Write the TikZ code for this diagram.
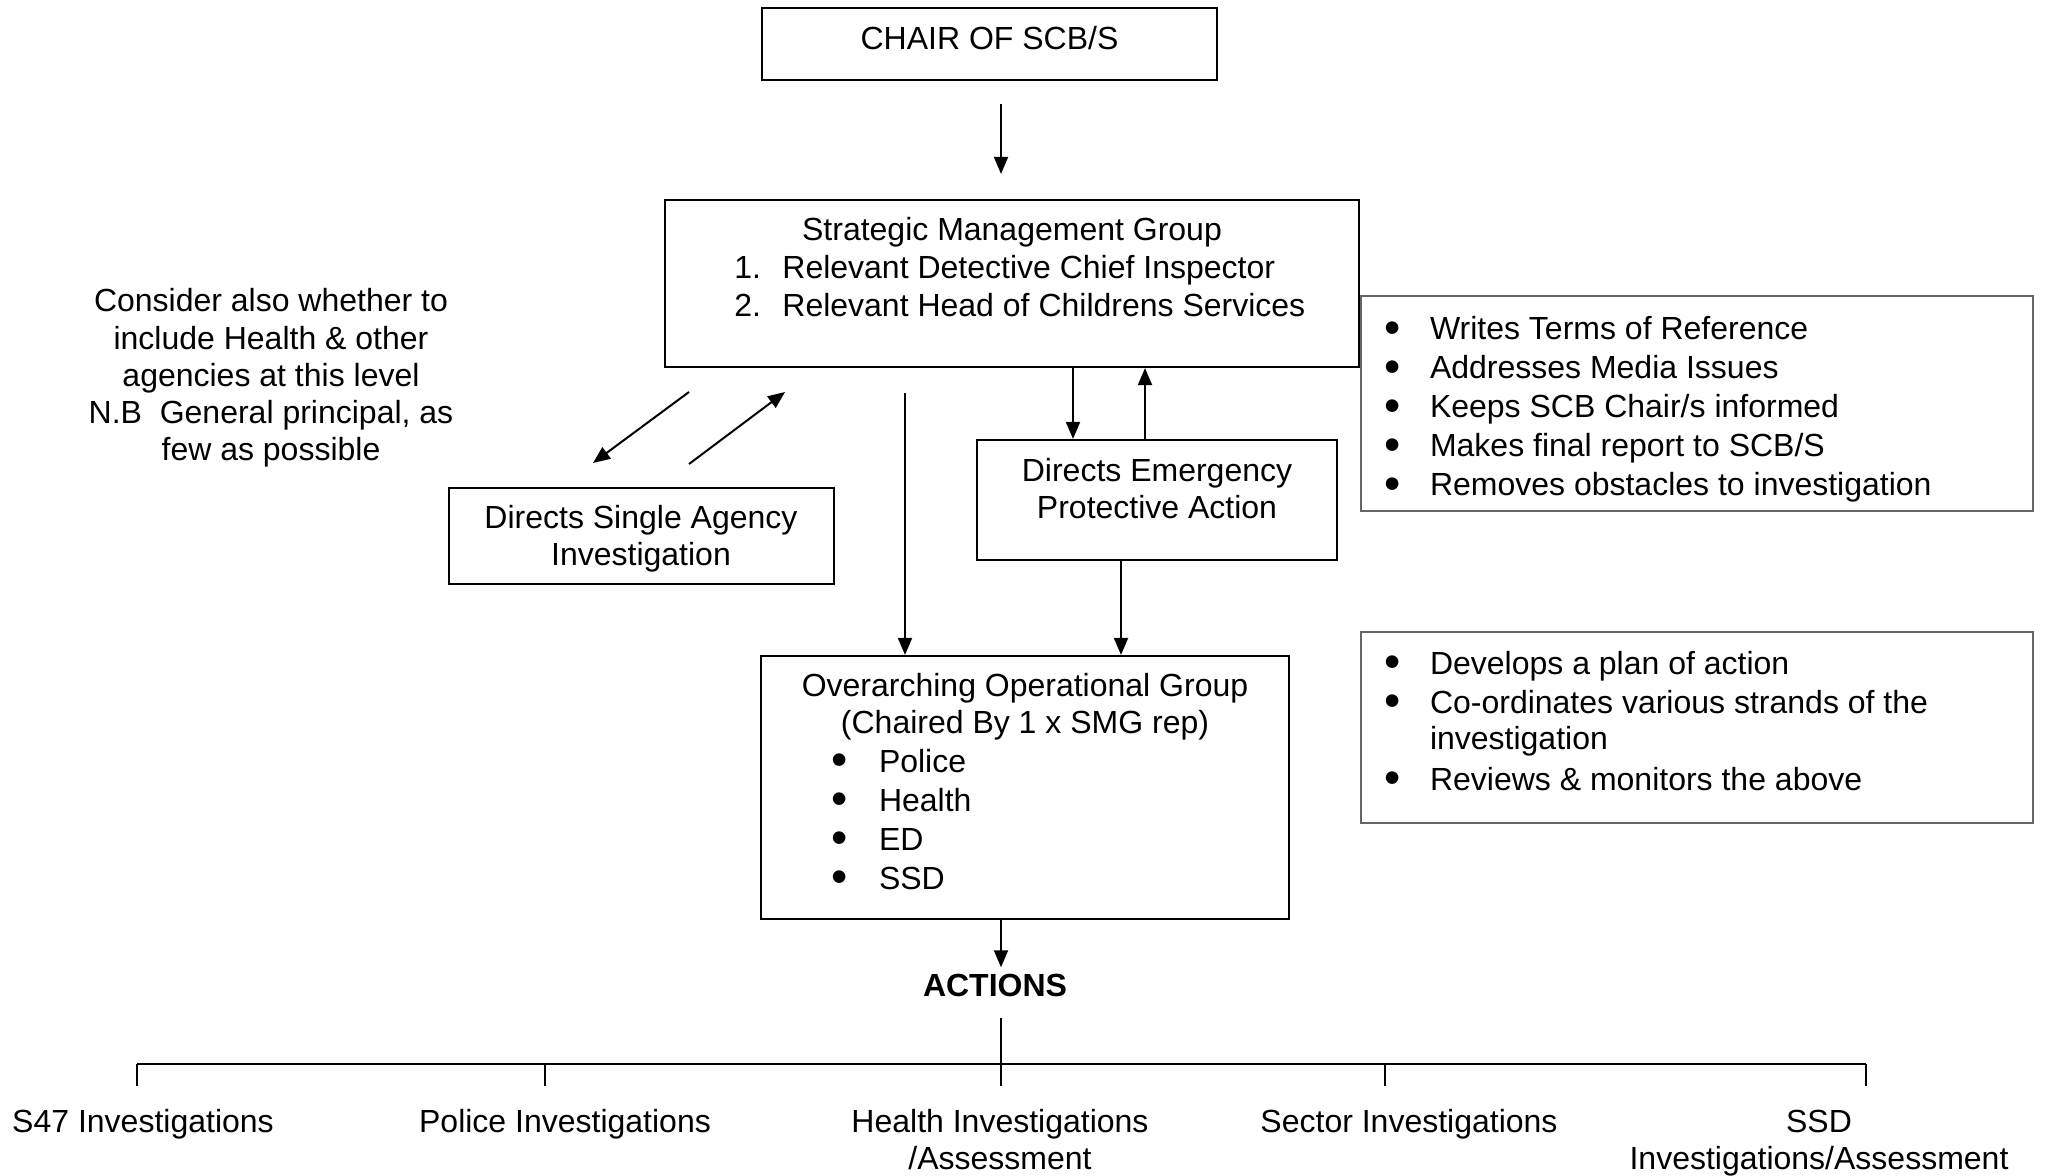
\documentclass[tikz,border=0pt]{standalone}
\usepackage{fontspec}
\setmainfont{Liberation Sans}
\usetikzlibrary{arrows.meta}
\newcommand\bitem[1]{\makebox[#1][l]{\smash{\raisebox{-0.12em}{\scalebox{1.45}{\textbullet}}}}}
\begin{document}
\begin{tikzpicture}[x=0.5pt,y=-0.5pt,
  box/.style={draw, line width=1.1pt, inner sep=0pt},
  notebox/.style={draw=black!60, line width=0.8pt, inner sep=0pt},
  txt/.style={inner sep=0pt, anchor=base, font=\fontsize{16}{18.6}\selectfont},
  arr/.style={line width=1pt, -{Triangle[length=8.5pt,width=7pt]}},
  thinline/.style={line width=0.6pt},
  bus/.style={line width=1.3pt}]
\useasboundingbox (0,0) rectangle (2045,1176);

% boxes
\node[box, minimum width=227.5pt, minimum height=36pt] (chair) at (989.5,44) {};
\node[box, minimum width=347pt, minimum height=83.5pt] (smg) at (1012,283.5) {};
\node[box, minimum width=192.5pt, minimum height=48pt] (dsai) at (641.5,536) {};
\node[box, minimum width=180pt, minimum height=60pt] (depa) at (1157,500) {};
\node[box, minimum width=264pt, minimum height=131.5pt] (oog) at (1025,787.5) {};
\node[notebox, minimum width=336pt, minimum height=107.5pt] (r1) at (1697,403.5) {};
\node[notebox, minimum width=336pt, minimum height=95.5pt] (r2) at (1697,727.5) {};

% texts
\node[txt] (chairtxt) at (989.5,50) {CHAIR OF SCB/S};
\node[txt] (smgtitle) at (1012,241) {Strategic Management Group};
\node[txt, anchor=base west] (smglist) at (734,279) {\begin{tabular}[t]{@{}l@{}l@{}}
\makebox[24pt][l]{1.}&Relevant Detective Chief Inspector\\
\makebox[24pt][l]{2.}&Relevant Head of Childrens Services\end{tabular}};
\node[txt] (note) at (271,312) {\begin{tabular}[t]{@{}c@{}}
Consider also whether to\\ include Health \& other\\ agencies at this level\\
N.B\ \ General principal, as\\ few as possible\end{tabular}};
\node[txt] (dsaitxt) at (641,528) {\begin{tabular}[t]{@{}c@{}}Directs Single Agency\\ Investigation\end{tabular}};
\node[txt] (depatxt) at (1157,481) {\begin{tabular}[t]{@{}c@{}}Directs Emergency\\ Protective Action\end{tabular}};
\node[txt, font=\fontsize{16}{18.8}\selectfont] (oogtitle) at (1025,696) {\begin{tabular}[t]{@{}c@{}}Overarching Operational Group\\ (Chaired By 1 x SMG rep)\end{tabular}};
\node[txt, anchor=base west, font=\fontsize{16}{19.5}\selectfont] (ooglist) at (831,772) {\begin{tabular}[t]{@{}l@{}l@{}}
\bitem{23.8pt}&Police\\ \bitem{23.8pt}&Health\\ \bitem{23.8pt}&ED\\ \bitem{23.8pt}&SSD\end{tabular}};
\node[txt, anchor=base west, font=\fontsize{16}{19.5}\selectfont] (r1list) at (1384,340) {\begin{tabular}[t]{@{}l@{}l@{}}
\bitem{22.8pt}&Writes Terms of Reference\\
\bitem{22.8pt}&Addresses Media Issues\\
\bitem{22.8pt}&Keeps SCB Chair/s informed\\
\bitem{22.8pt}&Makes final report to SCB/S\\
\bitem{22.8pt}&Removes obstacles to investigation\end{tabular}};
\node[txt, anchor=base west, font=\fontsize{16}{19.5}\selectfont] (r2list) at (1384,674) {\begin{tabular}[t]{@{}l@{}l@{}}
\bitem{22.8pt}&Develops a plan of action\\
\bitem{22.8pt}&Co-ordinates various strands of the\\[-1.5pt]
&investigation\\[1pt]
\bitem{22.8pt}&Reviews \& monitors the above\end{tabular}};
\node[txt, font=\fontsize{16}{18}\selectfont\bfseries] (actions) at (995,996) {ACTIONS};

\node[txt, font=\fontsize{16}{18.8}\selectfont] (s47) at (143,1132) {\begin{tabular}[t]{@{}c@{}}S47 Investigations\end{tabular}};
\node[txt, font=\fontsize{16}{18.8}\selectfont] (police) at (565,1132) {\begin{tabular}[t]{@{}c@{}}Police Investigations\end{tabular}};
\node[txt, font=\fontsize{16}{18.8}\selectfont] (health) at (1000,1132) {\begin{tabular}[t]{@{}c@{}}Health Investigations\\ /Assessment\end{tabular}};
\node[txt, font=\fontsize{16}{18.8}\selectfont] (sector) at (1409,1132) {\begin{tabular}[t]{@{}c@{}}Sector Investigations\end{tabular}};
\node[txt, font=\fontsize{16}{18.8}\selectfont] (ssd) at (1819,1132) {\begin{tabular}[t]{@{}c@{}}SSD\\ Investigations/Assessment\end{tabular}};

% helper coordinates
\coordinate (xa) at (1001,0);
\coordinate (xl) at (905,0);
\coordinate (xd1) at (1073,0);
\coordinate (xu) at (1145,0);
\coordinate (xd2) at (1121,0);
\coordinate (d1a) at (689,392);
\coordinate (d1b) at (593,463);
\coordinate (d2a) at (689,464);
\coordinate (d2b) at (785,392);
\coordinate (busL) at (137,1064);
\coordinate (b2) at (545,1064);
\coordinate (b3) at (1001,1064);
\coordinate (b4) at (1385,1064);
\coordinate (busR) at (1866,1064);

% connectors
\draw[arr, shorten <=11.5pt, shorten >=12.5pt] (chair.south -| xa) -- (smg.north -| xa);
\draw[arr] (d1a) -- (d1b);
\draw[arr] (d2a) -- (d2b);
\draw[arr, shorten <=12.5pt] (smg.south -| xl) -- (oog.north -| xl);
\draw[arr] (smg.south -| xd1) -- (depa.north -| xd1);
\draw[arr] (depa.north -| xu) -- (smg.south -| xu);
\draw[arr] (depa.south -| xd2) -- (oog.north -| xd2);
\draw[arr, shorten >=3pt] (oog.south -| xa) -- (actions.north -| xa);

\draw[bus] (busL) -- (busR);
\draw[thinline, shorten <=10.5pt] (actions.south -| b3) -- (b3);
\draw[thinline, shorten >=9.6pt] (busL) -- (busL |- s47.north);
\draw[thinline, shorten >=9.6pt] (b2) -- (b2 |- police.north);
\draw[thinline, shorten >=9.6pt] (b3) -- (b3 |- health.north);
\draw[thinline, shorten >=9.6pt] (b4) -- (b4 |- sector.north);
\draw[thinline, shorten >=9.6pt] (busR) -- (busR |- ssd.north);
\end{tikzpicture}
\end{document}
